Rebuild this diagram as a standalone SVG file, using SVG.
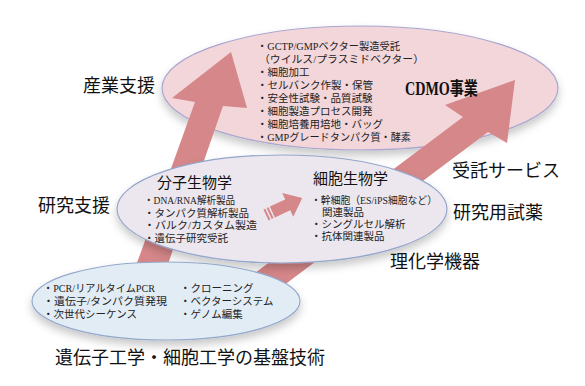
<svg xmlns="http://www.w3.org/2000/svg" width="585" height="386" viewBox="0 0 585 386">
<defs>
<filter id="sh" x="-20%" y="-20%" width="140%" height="160%">
<feDropShadow dx="0" dy="5" stdDeviation="4" flood-color="#000" flood-opacity="0.22"/>
</filter>
</defs>
<style>
.item{font-family:"Liberation Serif","Noto Sans CJK JP",serif;font-size:10.5px;fill:#222}
.head{font-family:"Liberation Serif","Noto Sans CJK JP",serif;font-size:15px;fill:#111}
.big{font-family:"Liberation Serif","Noto Sans CJK JP",serif;font-size:18px;fill:#111}
.arrow{fill:#d68789}
</style>
<rect width="585" height="386" fill="#fff"/>

<g id="node-cdmo">
<ellipse cx="360" cy="88" rx="198" ry="62" fill="#f2d6da" stroke="#aaa6cf" stroke-width="1.2" filter="url(#sh)"/>
</g>

<g id="connectors">
<polygon class="arrow" points="231,52 247,108 223,106 152,310 120,310 195,102 172,98"/>
<polygon class="arrow" points="515,80 507,143 488,132 239,319 223,297 463,117 445,105"/>
</g>

<g id="cdmo-text">
<text class="item" x="257" y="50" textLength="143" lengthAdjust="spacingAndGlyphs">・GCTP/GMPベクター製造受託</text>
<text class="item" x="259" y="63" textLength="165" lengthAdjust="spacingAndGlyphs">（ウイルス/プラスミドベクター）</text>
<text class="item" x="257" y="76">・細胞加工</text>
<text class="item" x="257" y="89">・セルバンク作製・保管</text>
<text class="item" x="257" y="102">・安全性試験・品質試験</text>
<text class="item" x="257" y="115">・細胞製造プロセス開発</text>
<text class="item" x="257" y="128">・細胞培養用培地・バッグ</text>
<text class="item" x="257" y="141" textLength="154" lengthAdjust="spacingAndGlyphs">・GMPグレードタンパク質・酵素</text>
<text class="big" x="405" y="95" font-weight="bold" textLength="73" lengthAdjust="spacingAndGlyphs">CDMO事業</text>
</g>

<g id="node-research">
<ellipse cx="282" cy="209" rx="165" ry="54" fill="#ece6ee" stroke="#93a5ca" stroke-width="1.2" filter="url(#sh)"/>
<text class="head" x="157" y="188">分子生物学</text>
<text class="item" x="144" y="204" textLength="91" lengthAdjust="spacingAndGlyphs">・DNA/RNA解析製品</text>
<text class="item" x="144" y="217">・タンパク質解析製品</text>
<text class="item" x="144" y="229" textLength="113" lengthAdjust="spacingAndGlyphs">・バルク/カスタム製造</text>
<text class="item" x="144" y="242">・遺伝子研究受託</text>
<text class="head" x="313" y="184">細胞生物学</text>
<text class="item" x="311" y="204" textLength="126" lengthAdjust="spacingAndGlyphs">・幹細胞（ES/iPS細胞など）</text>
<text class="item" x="322" y="216">関連製品</text>
<text class="item" x="311" y="228">・シングルセル解析</text>
<text class="item" x="311" y="240">・抗体関連製品</text>
<g transform="translate(266,215) rotate(-25)" class="arrow">
<rect x="0" y="-6" width="2" height="12"/>
<rect x="3.5" y="-6" width="2" height="12"/>
<polygon points="7,-6 24,-6 24,-13 40,0 24,13 24,6 7,6"/>
</g>
</g>

<g id="node-base">
<ellipse cx="166" cy="301" rx="134" ry="39" fill="#e2ecf5" stroke="#93a8cb" stroke-width="1.2" filter="url(#sh)"/>
<text class="item" x="43" y="292" textLength="112" lengthAdjust="spacingAndGlyphs">・PCR/リアルタイムPCR</text>
<text class="item" x="43" y="305" textLength="124" lengthAdjust="spacingAndGlyphs">・遺伝子/タンパク質発現</text>
<text class="item" x="43" y="318">・次世代シーケンス</text>
<text class="item" x="180" y="292">・クローニング</text>
<text class="item" x="180" y="305">・ベクターシステム</text>
<text class="item" x="180" y="318">・ゲノム編集</text>
</g>

<g id="labels">
<text class="big" x="83" y="92">産業支援</text>
<text class="big" x="38" y="212">研究支援</text>
<text class="big" x="452" y="177">受託サービス</text>
<text class="big" x="453" y="219" font-size="16px">研究用試薬</text>
<text class="big" x="390" y="268" font-size="17.5px">理化学機器</text>
<text class="big" x="55" y="364">遺伝子工学・細胞工学の基盤技術</text>
</g>
</svg>
